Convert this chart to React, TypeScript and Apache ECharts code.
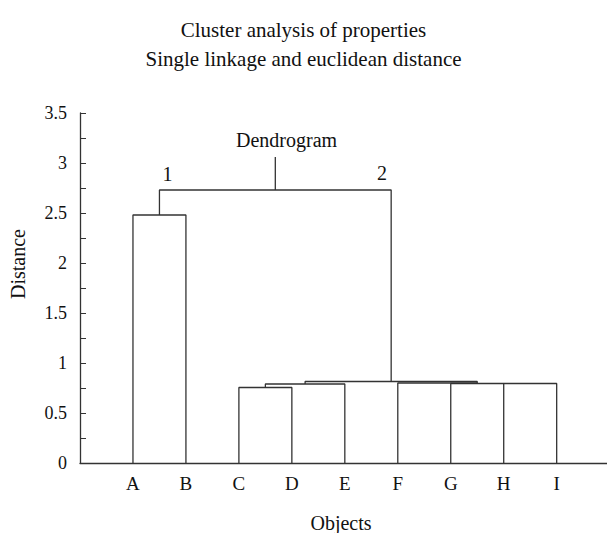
import React, { useEffect, useRef } from "react";
import * as echarts from "echarts";

// Leaves (objects) in order along the x axis (positions 1..9)
const categories = ["A", "B", "C", "D", "E", "F", "G", "H", "I"];

// Each merge: [xLeft, yLeftBottom, xRight, yRightBottom, mergeHeight]
const merges: number[][] = [
  [1, 0, 2, 0, 2.48],          // A-B
  [3, 0, 4, 0, 0.755],         // C-D
  [3.5, 0.755, 5, 0, 0.79],    // (CD)-E
  [7, 0, 8, 0, 0.795],         // G-H
  [6, 0, 7.5, 0.795, 0.8],     // F-(GH)
  [8, 0.795, 9, 0, 0.795],     // H-I
  [4.25, 0.79, 7.5, 0.8, 0.815], // cluster 2
  [1.5, 2.48, 5.875, 0.815, 2.73], // cluster 1 + cluster 2
];
const rootTop = 3.06;

// Annotations: [text, x, y]
const annotations: [string, number, number][] = [
  ["1", 1.65, 2.89],
  ["2", 5.7, 2.9],
  ["Dendrogram", 3.9, 3.23],
];

const FONT = "Liberation Serif";
const LINE = "#333";
const TEXT = "#111";

export default function App() {
  const ref = useRef<HTMLDivElement>(null);
  useEffect(() => {
    if (!ref.current) return;
    const chart = echarts.init(ref.current, undefined, { renderer: "svg" });
    const last = merges[merges.length - 1];
    const rootX = (last[0] + last[2]) / 2;
    const series: any[] = merges.map((m) => ({
      type: "line",
      data: [
        [m[0], m[1]],
        [m[0], m[4]],
        [m[2], m[4]],
        [m[2], m[3]],
      ],
      showSymbol: false,
      symbol: "none",
      silent: true,
      lineStyle: { color: LINE, width: 1.3 },
    }));
    series.push({
      type: "line",
      data: [
        [rootX, last[4]],
        [rootX, rootTop],
      ],
      symbol: "none",
      silent: true,
      lineStyle: { color: LINE, width: 1.3 },
    });
    const fixedGraphics: any[] = [
      {
        type: "text",
        x: 18,
        y: 264,
        rotation: Math.PI / 2,
        style: {
          text: "Distance",
          fontFamily: FONT,
          fontSize: 20,
          fill: TEXT,
          align: "center",
          verticalAlign: "middle",
        },
      },
      {
        type: "text",
        x: 341,
        y: 523,
        style: {
          text: "Objects",
          fontFamily: FONT,
          fontSize: 20,
          fill: TEXT,
          align: "center",
          verticalAlign: "middle",
        },
      },
    ];
    chart.setOption({
      animation: false,
      title: {
        text: "Cluster analysis of properties\nSingle linkage and euclidean distance",
        left: "center",
        top: 10,
        textStyle: {
          fontFamily: FONT,
          fontSize: 21,
          fontWeight: "normal",
          color: TEXT,
          lineHeight: 29,
        },
      },
      grid: { left: 80, right: 0, top: 113, bottom: 70 },
      xAxis: {
        type: "value",
        min: 0,
        max: 9.95,
        interval: 1,
        splitLine: { show: false },
        axisTick: { show: false },
        axisLine: { show: true, lineStyle: { color: LINE, width: 1.3 } },
        axisLabel: {
          formatter: (v: number) => categories[Math.round(v) - 1] ?? "",
          showMinLabel: false,
          showMaxLabel: false,
          fontFamily: FONT,
          fontSize: 19,
          color: TEXT,
          margin: 11,
        },
      },
      yAxis: {
        type: "value",
        min: 0,
        max: 3.5,
        interval: 0.5,
        splitLine: { show: false },
        axisLine: { show: true, lineStyle: { color: LINE, width: 1.3 } },
        axisTick: { show: true, inside: true, length: 6, lineStyle: { color: LINE } },
        minorTick: { show: true, splitNumber: 2, length: 6, lineStyle: { color: LINE } },
        axisLabel: {
          fontFamily: FONT,
          fontSize: 18,
          color: TEXT,
          margin: 13,
        },
      },
      graphic: fixedGraphics,
      series,
    });
    const annoGraphics = annotations.map((a) => {
      const p = chart.convertToPixel({ gridIndex: 0 }, [a[1], a[2]]) as number[];
      return {
        type: "text",
        x: p[0],
        y: p[1],
        style: {
          text: a[0],
          fontFamily: FONT,
          fontSize: 20,
          fill: TEXT,
          align: "center",
          verticalAlign: "middle",
        },
      };
    });
    chart.setOption({ graphic: [...fixedGraphics, ...annoGraphics] });
    return () => chart.dispose();
  }, []);
  return (
    <div
      ref={ref}
      style={{ position: "fixed", left: 0, top: 0, width: 607, height: 533, background: "#fff" }}
    />
  );
}
